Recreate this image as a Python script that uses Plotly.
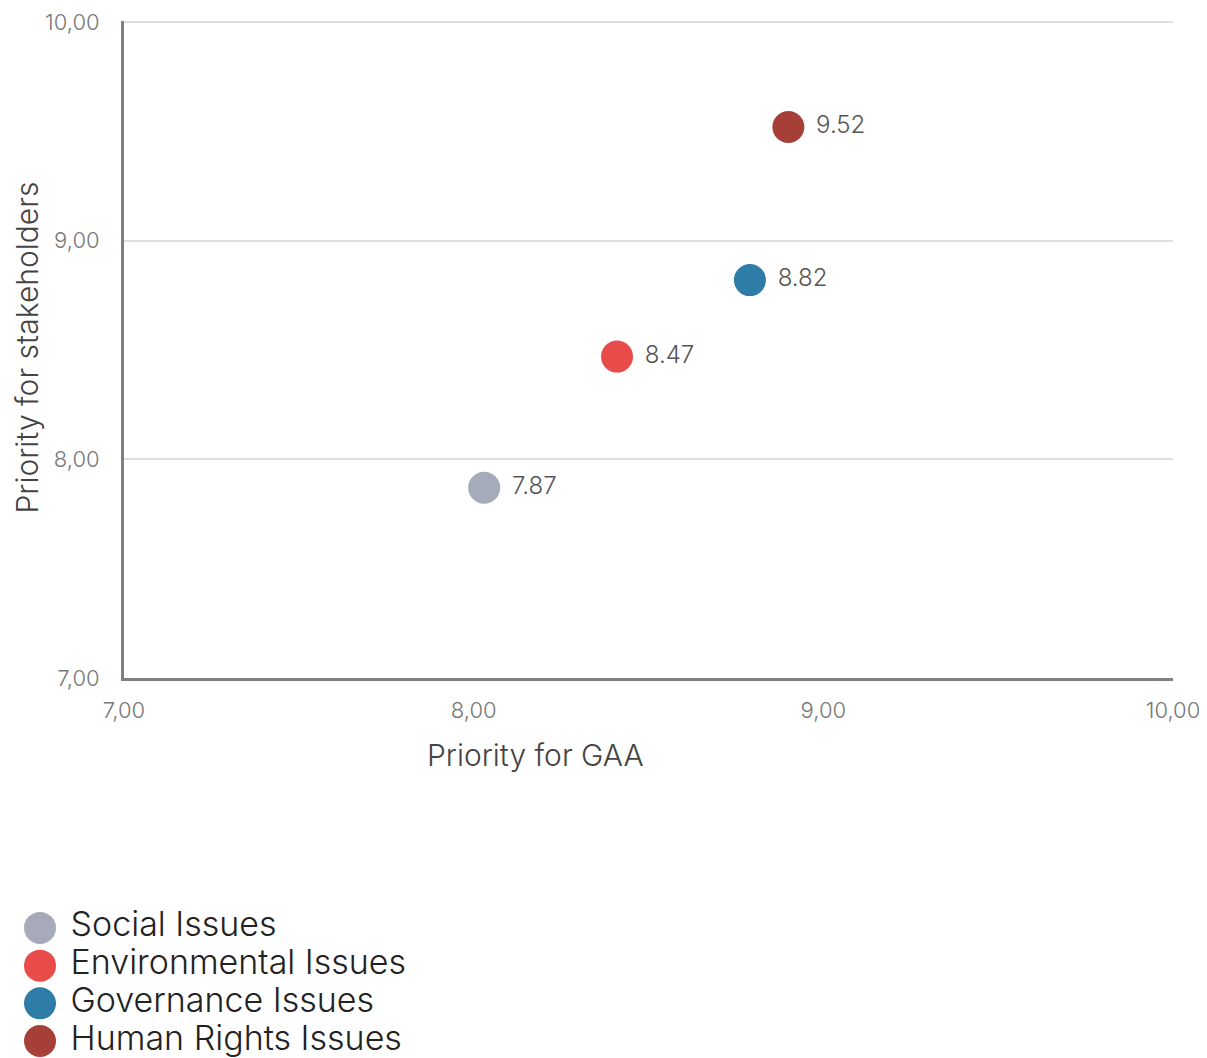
import plotly.graph_objects as go

categories = ["Social Issues", "Environmental Issues", "Governance Issues", "Human Rights Issues"]
gaa_priority = [8.03, 8.41, 8.79, 8.90]
stakeholder_priority = [7.87, 8.47, 8.82, 9.52]
colors = ["#a5abb8", "#e84c4a", "#2e7ca8", "#a63f37"]
tick_vals = [7, 8, 9, 10]
tick_text = ["7,00", "8,00", "9,00", "10,00"]

FONT = "Inter"
WT = 300
# page body adds an 8px margin, so the figure is 8px smaller than the window
W, H = 1199, 1050
R = 34
PW = W - R
TOP = 13
BOT = 380

fig = go.Figure()

for cat, x, y, c in zip(categories, gaa_priority, stakeholder_priority, colors):
    fig.add_trace(go.Scatter(
        x=[x], y=[y], mode="markers+text", name=cat,
        marker=dict(size=32, color=c, line=dict(width=0)),
        text=[" " + f"{y:.2f}"], textposition="middle right",
        textfont=dict(family=FONT, size=24, color="#555555", weight=WT),
        cliponaxis=False, showlegend=False, hoverinfo="skip",
        xaxis="x", yaxis="y",
    ))

# legend drawn on a helper axis
n = len(categories)
fig.add_trace(go.Scatter(
    x=[0] * n, y=list(range(n - 1, -1, -1)), mode="markers+text",
    marker=dict(size=32, color=colors, line=dict(width=0)),
    text=[" " + c for c in categories], textposition="middle right",
    textfont=dict(family=FONT, size=34, color="#222222", weight=WT),
    cliponaxis=False, showlegend=False, hoverinfo="skip",
    xaxis="x2", yaxis="y2",
))

fig.update_layout(
    width=W, height=H,
    margin=dict(l=0, r=R, t=0, b=0, autoexpand=False),
    paper_bgcolor="white", plot_bgcolor="white",
    font=dict(family=FONT, color="#555555"),
    showlegend=False,
    xaxis=dict(
        domain=[116 / PW, 1], range=[7, 10], automargin=False,
        tickvals=tick_vals, ticktext=tick_text, ticklabeloverflow="allow",
        showgrid=False, zeroline=False,
        showline=True, linecolor="#808080", linewidth=3,
        ticks="outside", ticklen=11, tickcolor="rgba(0,0,0,0)",
        tickfont=dict(family=FONT, size=22, color="#777777", weight=WT),
    ),
    yaxis=dict(
        domain=[BOT / H, 1 - TOP / H], range=[7, 10.005], automargin=False,
        tickvals=tick_vals, ticktext=tick_text, ticklabeloverflow="allow",
        showgrid=True, gridcolor="#dedede", gridwidth=2,
        zeroline=False,
        showline=True, linecolor="#808080", linewidth=3,
        ticks="outside", ticklen=17, tickcolor="rgba(0,0,0,0)",
        tickfont=dict(family=FONT, size=22, color="#777777", weight=WT),
    ),
    xaxis2=dict(domain=[0, 0.4], range=[-1, 13.56], visible=False, fixedrange=True, automargin=False),
    yaxis2=dict(domain=[0, 0.2], range=[-0.45, 5.12], visible=False, fixedrange=True, automargin=False),
    annotations=[
        dict(
            text="Priority for GAA", xref="paper", yref="paper",
            x=527 / PW, y=(H - 747) / H, xanchor="center", yanchor="middle",
            showarrow=False, font=dict(family=FONT, size=30, color="#444444", weight=WT),
        ),
        dict(
            text="Priority for stakeholders", xref="paper", yref="paper",
            x=0, y=1 - 339.5 / H, xanchor="left", yanchor="middle", textangle=-90,
            borderpad=0,
            showarrow=False, font=dict(family=FONT, size=30, color="#444444", weight=WT),
        ),
    ],
)

fig.write_html("out.html")
